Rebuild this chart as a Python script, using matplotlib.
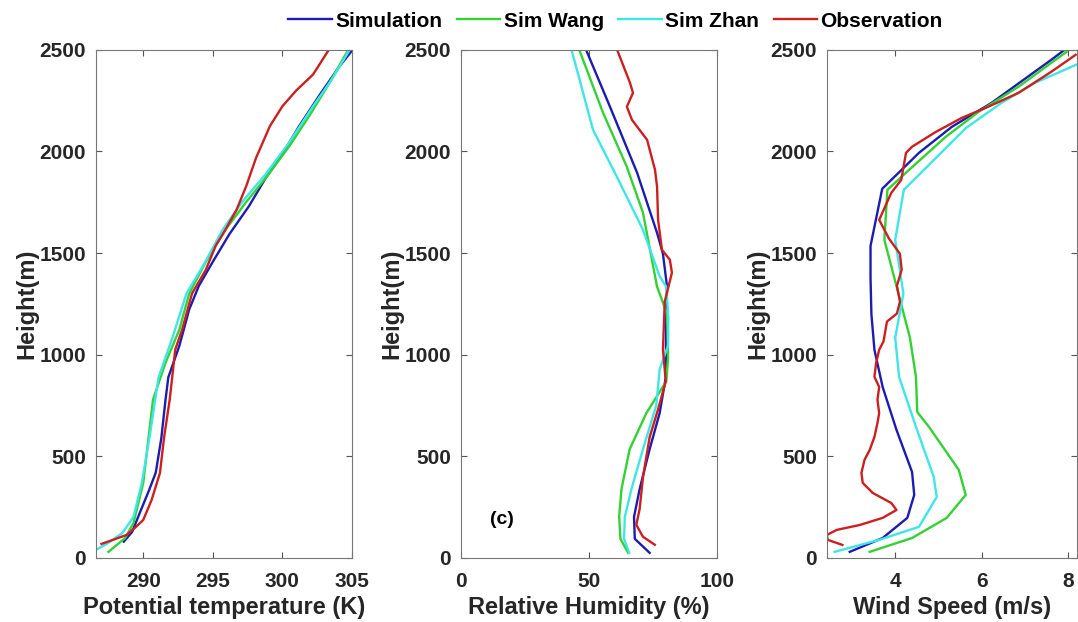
import matplotlib
matplotlib.use('Agg')
import matplotlib.pyplot as plt

plt.rcParams['font.family'] = ['Liberation Sans', 'DejaVu Sans']
plt.rcParams['font.weight'] = 'bold'

# series order: Simulation, Sim Wang, Sim Zhan, Observation
names = ['Simulation', 'Sim Wang', 'Sim Zhan', 'Observation']
colors = ['#1c1cb0', '#33d133', '#3fe6e6', '#cc1f1f']

# potential temperature (K) vs height (m)
th_sim_t = [288.6, 289.2, 289.8, 290.4, 290.9, 291.3, 291.6, 291.8, 292.6, 293.3, 294.0, 295.0, 296.2, 297.6, 298.8, 300.0, 301.2, 302.7, 304.1, 305.0]
th_sim_h = [80, 128, 230, 330, 420, 590, 778, 888, 1045, 1222, 1339, 1457, 1594, 1731, 1869, 1986, 2124, 2280, 2418, 2496]
th_wang_t = [287.5, 288.7, 289.3, 290.0, 290.7, 291.6, 292.6, 293.3, 294.5, 295.9, 297.4, 298.8, 300.5, 302.0, 303.4, 304.7]
th_wang_h = [30, 98, 172, 369, 778, 960, 1124, 1300, 1457, 1614, 1751, 1869, 2026, 2182, 2339, 2496]
th_zhan_t = [286.6, 287.6, 288.5, 289.3, 289.9, 290.5, 291.1, 292.1, 293.1, 294.3, 295.7, 297.1, 298.8, 300.5, 302.2, 303.6, 304.8]
th_zhan_h = [39, 79, 123, 202, 369, 615, 888, 1084, 1300, 1437, 1614, 1751, 1888, 2045, 2222, 2359, 2496]
th_obs_t = [287.0, 288.8, 289.4, 290.0, 290.6, 291.2, 291.5, 291.9, 292.3, 292.8, 293.5, 294.5, 295.2, 295.9, 296.7, 297.4, 298.1, 299.1, 300.0, 301.0, 302.2, 303.3]
th_obs_h = [69, 113, 148, 187, 285, 418, 594, 778, 1025, 1124, 1300, 1418, 1535, 1614, 1712, 1829, 1967, 2124, 2222, 2300, 2378, 2496]

# relative humidity (%) vs height (m)
rh_sim_v = [73.7, 67.9, 67.6, 69.8, 73.7, 77.6, 80.0, 80.2, 80.5, 78.9, 76.6, 68.8, 58.2, 49.2]
rh_sim_h = [25, 94, 202, 339, 535, 712, 888, 1182, 1334, 1496, 1599, 1895, 2220, 2490]
rh_wang_v = [65.3, 62.3, 61.8, 62.7, 65.9, 72.4, 80.2, 80.9, 80.5, 76.6, 71.1, 64.8, 55.5, 46.5]
rh_wang_h = [25, 94, 202, 339, 535, 712, 869, 986, 1202, 1334, 1698, 1924, 2190, 2490]
rh_zhan_v = [65.7, 63.7, 64.0, 66.6, 71.1, 76.3, 77.6, 80.9, 81.0, 80.2, 77.7, 71.1, 60.9, 51.6, 43.4]
rh_zhan_h = [25, 94, 202, 339, 535, 751, 927, 1045, 1182, 1334, 1383, 1614, 1875, 2106, 2490]
rh_obs_v = [75.7, 71.1, 68.5, 69.8, 71.1, 73.7, 77.0, 80.0, 78.9, 79.6, 82.4, 81.6, 78.5, 77.0, 76.6, 75.8, 72.7, 66.8, 64.8, 67.2, 66.0, 61.3]
rh_obs_h = [65, 104, 163, 241, 398, 594, 731, 869, 1025, 1261, 1403, 1467, 1516, 1663, 1826, 1909, 2057, 2155, 2220, 2288, 2338, 2490]

# wind speed (m/s) vs height (m)
ws_sim_v = [2.95, 3.71, 4.28, 4.44, 4.39, 4.03, 3.71, 3.52, 3.45, 3.43, 3.43, 3.70, 4.55, 5.31, 6.23, 7.61, 7.89]
ws_sim_h = [30, 98, 197, 310, 423, 630, 841, 1024, 1200, 1378, 1535, 1816, 1993, 2121, 2239, 2451, 2496]
ws_wang_v = [3.41, 4.39, 5.19, 5.63, 5.47, 4.78, 4.51, 4.48, 4.34, 3.75, 3.82, 4.32, 5.17, 5.93, 6.85, 7.61, 7.96]
ws_wang_h = [30, 98, 197, 310, 433, 645, 718, 891, 1084, 1565, 1811, 1909, 2072, 2195, 2318, 2436, 2490]
ws_zhan_v = [2.60, 3.63, 4.55, 4.96, 4.89, 4.48, 4.09, 4.00, 4.19, 4.00, 4.20, 5.64, 6.46, 7.24, 8.18]
ws_zhan_h = [30, 89, 153, 300, 399, 645, 891, 1084, 1300, 1565, 1811, 2116, 2239, 2338, 2426]
ws_obs_v = [2.78, 2.44, 2.42, 2.65, 3.18, 3.71, 4.03, 3.91, 3.48, 3.25, 3.22, 3.29, 3.41, 3.52, 3.59, 3.63, 3.59, 3.63, 3.52, 3.56, 3.63,
            3.73, 3.81, 4.04, 4.11, 4.04, 4.15, 4.11, 3.86, 3.63, 3.91, 4.14, 4.25, 4.39, 4.94, 5.54, 6.09, 6.85, 7.61, 8.17]
ws_obs_h = [64, 89, 113, 138, 162, 197, 236, 270, 320, 369, 418, 482, 531, 595, 664, 713, 777, 841, 891, 960, 1024,
            1065, 1163, 1202, 1261, 1339, 1418, 1496, 1570, 1663, 1796, 1860, 1993, 2023, 2096, 2165, 2214, 2288, 2392, 2475]

theta = [(th_sim_t, th_sim_h), (th_wang_t, th_wang_h), (th_zhan_t, th_zhan_h), (th_obs_t, th_obs_h)]
rh = [(rh_sim_v, rh_sim_h), (rh_wang_v, rh_wang_h), (rh_zhan_v, rh_zhan_h), (rh_obs_v, rh_obs_h)]
ws = [(ws_sim_v, ws_sim_h), (ws_wang_v, ws_wang_h), (ws_zhan_v, ws_zhan_h), (ws_obs_v, ws_obs_h)]

fig = plt.figure(figsize=(10.78, 6.22), dpi=100)
lefts = [0.089, 0.4276, 0.767]
widths = [0.2375, 0.2375, 0.232]
panels = [
    (theta, (286.6, 305), [290, 295, 300, 305], 'Potential temperature (K)'),
    (rh, (0, 100), [0, 50, 100], 'Relative Humidity (%)'),
    (ws, (2.42, 8.2), [4, 6, 8], 'Wind Speed (m/s)'),
]

handles = []
for i, (data, xlim, xticks, xlabel) in enumerate(panels):
    ax = fig.add_axes([lefts[i], 0.103, widths[i], 0.817])
    for (x, y), c, n in zip(data, colors, names):
        ln, = ax.plot(x, y, color=c, lw=1.7, label=n)
        if i == 0:
            handles.append(ln)
    ax.set_xlim(*xlim)
    ax.set_ylim(0, 2500)
    ax.set_xticks(xticks)
    ax.set_yticks([0, 500, 1000, 1500, 2000, 2500])
    ax.tick_params(direction='in', top=True, right=True, labelsize=15,
                   length=4, color='#555555')
    ax.tick_params(axis='x', pad=10)
    ax.tick_params(axis='y', pad=7)
    for lab in ax.get_xticklabels() + ax.get_yticklabels():
        lab.set_fontweight('bold')
        lab.set_color('#262626')
    for s in ax.spines.values():
        s.set_color('#777777')
        s.set_linewidth(0.8)
    ax.set_xlabel(xlabel, fontsize=17, fontweight='bold', color='#262626', labelpad=4)
    ax.set_ylabel('Height(m)', fontsize=17, fontweight='bold', color='#262626', labelpad=1)
    if i == 1:
        ax.text(16, 190, '(c)', fontsize=14, fontweight='bold', ha='center', va='center')

fig.legend(handles=handles, labels=names, loc='center', bbox_to_anchor=(0.571, 0.966),
           ncol=4, frameon=False, handlelength=2.1, handletextpad=0.15,
           columnspacing=0.7, borderaxespad=0, prop={'weight': 'bold', 'size': 15})

fig.savefig('out.png', dpi=100)
